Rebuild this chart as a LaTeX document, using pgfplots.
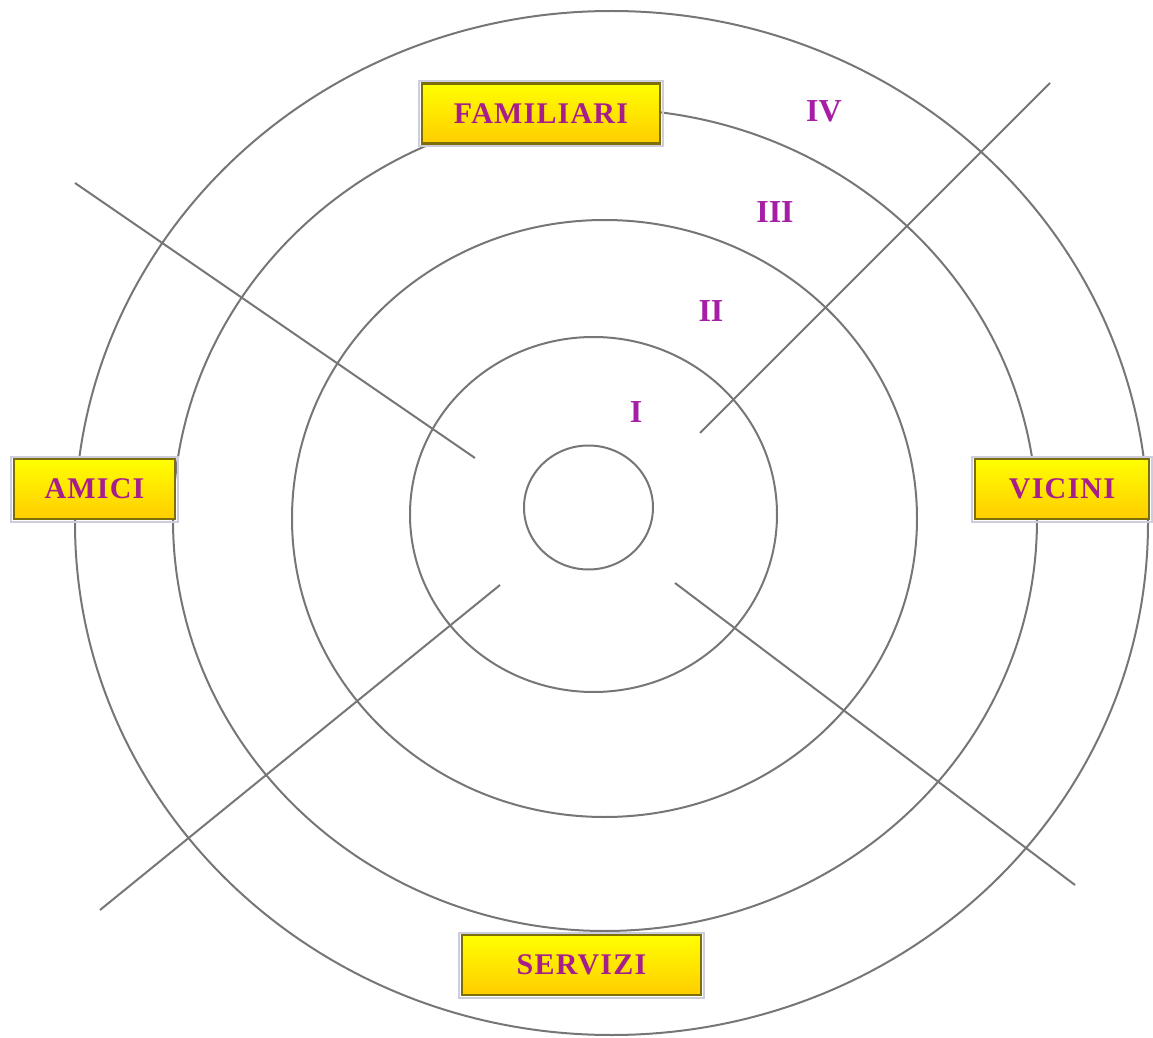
\documentclass[border=0pt]{standalone}
\usepackage{pgfplots}
\pgfplotsset{compat=1.18}
\usepackage{fontspec}
\setmainfont{Liberation Serif}
\definecolor{ringgray}{RGB}{118,118,118}
\definecolor{boxtext}{RGB}{165,30,140}
\definecolor{numtext}{RGB}{165,30,165}
\definecolor{boxborder}{RGB}{125,110,10}
\definecolor{boxshadow}{RGB}{205,205,220}
\definecolor{ytop}{RGB}{255,255,0}
\definecolor{ybot}{RGB}{255,205,0}
\tikzset{
  lab/.style={minimum width=#1, minimum height=30pt, inner sep=0pt,
    top color=ytop, bottom color=ybot, draw=boxborder, line width=1.3pt,
    text=boxtext, font=\fontsize{15pt}{18pt}\selectfont\bfseries\addfontfeature{LetterSpace=4}},
  shad/.style={minimum width=#1, minimum height=32.5pt, inner sep=0pt,
    draw=boxshadow, line width=1pt},
  num/.style={text=numtext, font=\fontsize{16pt}{19pt}\selectfont\bfseries, inner sep=0pt}
}
\begin{document}
\begin{tikzpicture}
\begin{axis}[
  width=576.5pt, height=519pt, scale only axis,
  xmin=0, xmax=1153, ymin=0, ymax=1038, y dir=reverse,
  hide axis, clip=false]
\path (axis cs:0,0) rectangle (axis cs:1153,1038);
% rings
\draw[ringgray, line width=1pt] (axis cs:588.5,507.5) ellipse [x radius=64.5, y radius=62];
\draw[ringgray, line width=1pt] (axis cs:593.5,514.5) ellipse [x radius=183.5, y radius=177.5];
\draw[ringgray, line width=1pt] (axis cs:604.5,518.5) ellipse [x radius=312.5, y radius=298.5];
\draw[ringgray, line width=1pt] (axis cs:605,520) ellipse [x radius=432, y radius=411];
\draw[ringgray, line width=1pt] (axis cs:611.5,523) ellipse [x radius=536.5, y radius=512];
% spokes
\addplot[ringgray, line width=1pt] coordinates {(75,183) (475,458)};
\addplot[ringgray, line width=1pt] coordinates {(1050,83) (700,433)};
\addplot[ringgray, line width=1pt] coordinates {(100,910) (500,585)};
\addplot[ringgray, line width=1pt] coordinates {(675,583) (1075,885)};
% labels
\node[shad=122pt] at (axis cs:541,113.5) {};
\node[lab=119pt] at (axis cs:541,113.5) {FAMILIARI};
\node[shad=83.5pt] at (axis cs:94.5,489) {};
\node[lab=80.5pt] at (axis cs:94.5,489) {AMICI};
\node[shad=90pt] at (axis cs:1062,489) {};
\node[lab=87pt] at (axis cs:1062,489) {VICINI};
\node[shad=122.5pt] at (axis cs:581.5,965) {};
\node[lab=119.5pt] at (axis cs:581.5,965) {SERVIZI};
% ring numbers
\node[num] at (axis cs:636,412) {I};
\node[num] at (axis cs:711,311) {II};
\node[num] at (axis cs:775,212) {III};
\node[num] at (axis cs:824,111) {IV};
\end{axis}
\pgfresetboundingbox
\path (current axis.south west) rectangle (current axis.north east);
\end{tikzpicture}
\end{document}
